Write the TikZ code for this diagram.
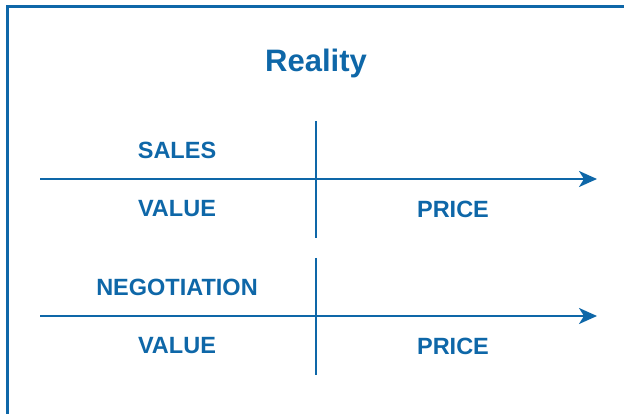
\documentclass[tikz,border=0pt]{standalone}
\usepackage{fontspec}
\setmainfont{Liberation Sans}
\usetikzlibrary{arrows.meta}
\definecolor{ink}{HTML}{0E67A8}
\begin{document}
\begin{tikzpicture}[x=1pt,y=-1pt,
  lbl/.style={text=ink,font=\fontsize{23.5}{26}\selectfont\bfseries,inner sep=0pt,anchor=center},
  axis/.style={draw=ink,line width=2.3pt},
  arr/.style={axis,-{Stealth[length=18pt,width=16pt,inset=5pt]}}]
\useasboundingbox (0,0) rectangle (624,414);
\clip (0,0) rectangle (624,414);
\draw[draw=ink,line width=2.6pt] (7.25,6.25) rectangle (640,430);
\node[text=ink,font=\fontsize{31}{34}\selectfont\bfseries,inner sep=0pt] (title) at (316,63.5) {Reality};
% first chart
\coordinate (h1s) at (40,179);
\coordinate (h1e) at (597,179);
\coordinate (v1t) at (316,121);
\coordinate (v1b) at (316,238);
\draw[arr] (h1s) -- (h1e);
\draw[axis] (v1t) -- (v1b);
\node[lbl] (sales) at (177,150) {SALES};
\node[lbl] (value1) at (177,209) {VALUE};
\node[lbl] (price1) at (453,209) {PRICE};
% second chart
\coordinate (h2s) at (40,316);
\coordinate (h2e) at (597,316);
\coordinate (v2t) at (316,258);
\coordinate (v2b) at (316,375);
\draw[arr] (h2s) -- (h2e);
\draw[axis] (v2t) -- (v2b);
\node[lbl] (nego) at (177,287) {NEGOTIATION};
\node[lbl] (value2) at (177,346) {VALUE};
\node[lbl] (price2) at (453,346) {PRICE};
\end{tikzpicture}
\end{document}
